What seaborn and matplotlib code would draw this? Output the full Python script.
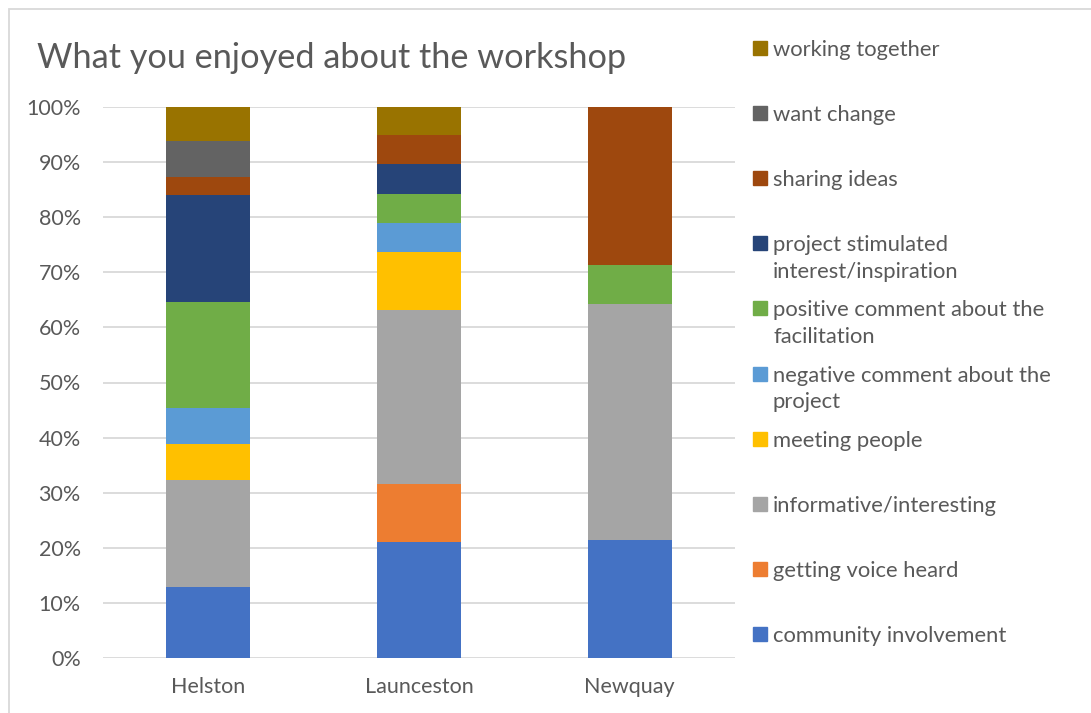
import numpy as np
import pandas as pd
import matplotlib
matplotlib.use("Agg")
import matplotlib.pyplot as plt
from matplotlib.patches import Rectangle
from matplotlib.ticker import PercentFormatter
import seaborn as sns

# data (percent of responses per site)
sites = ["Helston", "Launceston", "Newquay"]
categories = [
    "community involvement",
    "getting voice heard",
    "informative/interesting",
    "meeting people",
    "negative comment about the\nproject",
    "positive comment about the\nfacilitation",
    "project stimulated\ninterest/inspiration",
    "sharing ideas",
    "want change",
    "working together",
]
helston = [12.9, 0.0, 19.4, 6.5, 6.5, 19.4, 19.4, 3.2, 6.5, 6.5]
launceston = [21.1, 10.5, 31.6, 10.5, 5.3, 5.3, 5.3, 5.3, 0.0, 5.3]
newquay = [21.4, 0.0, 42.9, 0.0, 0.0, 7.1, 0.0, 28.6, 0.0, 0.0]
colors = ["#4472C4", "#ED7D31", "#A5A5A5", "#FFC000", "#5B9BD5",
          "#70AD47", "#264478", "#9E480E", "#636363", "#997300"]

W, H = 1091, 713
txt = "#595959"
grid = "#D9D9D9"

sns.set_theme(style="white")
plt.rcParams["font.family"] = ["Lato", "DejaVu Sans"]

df = pd.DataFrame({"Helston": helston, "Launceston": launceston, "Newquay": newquay},
                  index=categories)
cum = df.cumsum() / 100.0

fig = plt.figure(figsize=(W / 100, H / 100), dpi=100)
ax = fig.add_axes([103 / W, 1 - 658 / H, (735 - 103) / W, (658 - 107) / H])

# stacked bars: draw cumulative totals from the top segment down
for cat, col in reversed(list(zip(categories, colors))):
    sns.barplot(x=sites, y=cum.loc[cat].values, color=col, width=0.4,
                linewidth=0, saturation=1, ax=ax)

ax.set_ylim(0, 1)
ax.set_yticks(np.arange(0, 1.01, 0.1))
ax.yaxis.set_major_formatter(PercentFormatter(1.0, decimals=0))
ax.grid(axis="y", color=grid, linewidth=1.3)
ax.set_axisbelow(True)
for s in ax.spines.values():
    s.set_visible(False)
ax.tick_params(axis="y", length=0, pad=16, labelsize=15.5, labelcolor=txt)
ax.tick_params(axis="x", length=0, pad=14, labelsize=15.5, labelcolor=txt)
ax.set_xlabel("")
ax.set_ylabel("")

# title
fig.text(37 / W, 1 - 58 / H, "What you enjoyed about the workshop",
         fontsize=24.7, color=txt, va="center", ha="left")

# legend, evenly spaced like the original
for i, (cat, col) in enumerate(reversed(list(zip(categories, colors)))):
    yc = 48 + 65.1 * i
    fig.patches.append(Rectangle((753 / W, 1 - (yc + 7) / H), 14 / W, 14 / H,
                                 transform=fig.transFigure, color=col))
    fig.text(773 / W, 1 - (yc - 8) / H, cat, fontsize=15.8, color=txt,
             va="top", ha="left", linespacing=1.42)

# chart border
fig.patches.append(Rectangle((9 / W, -0.1), 1.2, 1 - 9 / H + 0.1,
                             transform=fig.transFigure, fill=False,
                             edgecolor=grid, linewidth=1.3))

fig.savefig("out.png", dpi=100)
